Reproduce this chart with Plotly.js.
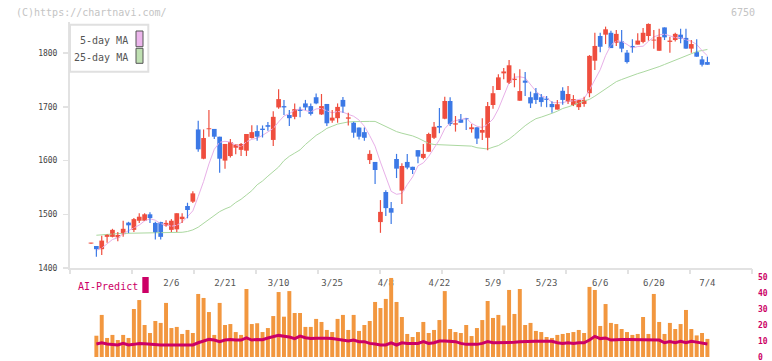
<!DOCTYPE html>
<html>
<head>
<meta charset="utf-8">
<script src="https://cdn.plot.ly/plotly-3.0.1.min.js"></script>
<style>html,body{margin:0;padding:0;background:#fff;}#chart{width:772px;height:361px;}</style>
</head>
<body>
<div id="chart"></div>
<script>
// ---- data ----
const openP = [1445.5,1441,1435,1458,1458,1457,1463,1484.5,1471,1488,1488,1500,1484,1485.5,1479,1471,1472,1491,1515.5,1523.5,
1658,1603.5,1658.4,1659,1644.5,1600,1608.5,1624,1620,1618.5,1642,1655,1659.5,1666,1638.5,1699,1701.5,1685,1681.5,1695.5,
1706.5,1701.5,1718,1686,1705.5,1674.5,1679,1713,1678,1670.5,1661.5,1653,1601,1597.5,1485.5,1541.5,1511.5,1603,1544,1597.5,
1588.5,1619.5,1605,1616.5,1642.5,1664.5,1678,1711,1667,1677.5,1679,1658.5,1662,1652,1642.5,1703.5,1731.5,1762.5,1745,1750,
1711.5,1749,1718,1725.5,1718,1715.5,1705.5,1695,1730,1709.5,1703.5,1699.5,1705.5,1725.5,1786,1832,1834.5,1838,1819.5,1822,
1801,1813.5,1816,1821,1832,1823.5,1804.5,1848,1821,1824.5,1834.5,1828.5,1808.5,1802,1788.5,1783.5];
const highP = [1447,1441,1460,1463,1473,1467,1488,1486,1493,1502,1502,1504,1486,1486,1489,1491,1502,1502,1521.5,1543,
1674,1658,1694,1659,1644.5,1631,1640,1630,1633,1649.5,1666,1666,1665.5,1672,1692,1733,1713,1694,1706.5,1700.5,
1713,1706.5,1725,1724,1705.5,1694,1706.5,1718.5,1689,1672.5,1661.5,1661.5,1619.5,1597.5,1526.5,1545,1523,1612.5,1595,1612.5,
1588.5,1619.5,1631,1652,1672,1698,1719,1718,1683,1687,1679,1668,1662,1679,1709,1739,1761,1772.5,1787.5,1762.5,
1770,1765,1728.5,1735,1724,1720.5,1710.5,1713,1736.5,1739,1722,1713,1719,1796.5,1838,1838,1849.5,1842,1843,1843,
1806,1826,1837,1847,1855.5,1843,1845.5,1848,1830.5,1838,1845.5,1845.5,1824.5,1826,1795,1793.5];
const lowP = [1445,1421,1424,1447,1457,1450,1458,1465,1467,1484,1488,1484,1453,1453,1477,1467,1467,1484,1492.5,1521,
1616.5,1602.5,1644.5,1640,1577.5,1585,1606,1612,1608.5,1608.5,1641,1637,1643,1655.5,1627,1696.5,1685,1664.5,1677,1680.5,
1694,1684,1705,1685,1664.5,1670.5,1670.5,1689,1665.5,1642.5,1639.5,1637,1593.5,1556.5,1465.5,1497,1482,1567.5,1519,1584,
1575,1595,1602.5,1616.5,1640,1651,1677,1664.5,1654,1670.5,1657,1652,1631,1638.5,1619.5,1696.5,1731.5,1751.5,1742.5,1736.5,
1711.5,1720.5,1698,1705.5,1700.5,1699.5,1689,1695,1704,1705.5,1701.5,1694,1700.5,1718,1768.5,1802,1817,1809.5,1813.5,1802,
1781,1801,1816,1818.5,1823.5,1808.5,1804.5,1824.5,1801,1822,1818.5,1808.5,1801,1793.5,1775,1778.5];
const closeP = [1446.5,1435,1451,1463,1471,1461.5,1473,1479.5,1491,1495.5,1500,1493,1466,1458,1484,1488,1502,1495.5,1508,1539,
1621,1642,1659.5,1644.5,1603.5,1631,1634.5,1630,1631,1649.5,1653,1644.5,1657,1663,1681.5,1714.5,1699,1679,1696,1692.5,
1699,1687,1706.5,1701.5,1669.5,1680,1700,1700.5,1680.5,1652,1644.5,1642.5,1612.5,1582.5,1504.5,1511.5,1503,1585,1590,1587,
1582.5,1607.5,1612.5,1649.5,1663,1661.5,1711,1668,1669.5,1670.5,1677,1662,1641,1657,1701.5,1725.5,1755,1766,1777.5,1752.5,
1729.5,1745,1706.5,1713,1709,1713,1699.5,1705,1713,1724,1714.5,1713,1713,1795,1813.5,1812,1844.5,1809.5,1836,1808.5,
1783.5,1811,1823.5,1838,1854.5,1824.5,1830.5,1829.5,1823.5,1836,1827,1808.5,1817,1793.5,1778.5,1778.5];
const ma5 = [null,1433,1437,1445,1453.1,1456.2,1463.8,1469.6,1475.1,1480,1487.7,1491.7,1489,1482.5,1480.2,1477.8,1479.6,1485.5,1495.5,1506.5,
1533.1,1561.1,1593.8,1621.1,1634,1636,1634.5,1628.7,1626,1635.2,1639.6,1641.6,1647,1653.4,1659.8,1672.2,1683.1,1687.4,1694,1696.2,
1693,1690.6,1696.2,1697.3,1692.7,1688.9,1691.6,1690.3,1686.1,1682.6,1675.5,1664,1646.4,1626.8,1597.2,1570.7,1542.8,1537.3,1538.8,1555.3,
1569.5,1590.3,1595.8,1607.7,1622.9,1638.7,1659.4,1670.6,1674.5,1676.1,1679.2,1669.4,1664,1661.5,1667.7,1677.4,1696,1721,1745.1,1755.3,
1756.1,1754.1,1742.3,1729.3,1720.6,1717.3,1708.1,1707.7,1707.7,1710.7,1711.1,1713.8,1715.4,1731.8,1749.7,1769.2,1795.5,1814.9,1823.1,1822.1,
1816.4,1809.7,1812.4,1812.9,1822.1,1830.3,1834.2,1835.5,1832.5,1828.8,1829.3,1824.8,1822.3,1816.3,1804.9,1795.2];
const ma25 = [null,1461,1462,1463,1463.5,1464,1464.5,1464.6,1465,1465,1465,1465.5,1465.5,1466,1466,1466,1466.5,1466.5,1468,1471,
1476,1483,1490,1497,1505,1510,1514,1522,1528,1536,1544,1555,1562,1571,1580,1588,1600,1608,1614,1620,
1630,1638,1647,1653,1660,1664,1668,1670,1672,1672.5,1673,1673,1673,1673,1668,1664,1658,1654,1651,1649,
1646,1642,1637,1632,1630,1629.5,1629,1628.5,1628,1628,1627.5,1627,1624,1622.5,1621.6,1625,1628,1634,1640,1648,
1657,1665,1672,1678,1681,1684,1688,1692,1697,1700,1703,1707,1711,1714,1720,1727,1734,1741,1747,1751,
1755,1759,1762,1765,1768,1771,1775,1779,1783,1788,1792,1796,1800,1803,1805,1807];
const aiBars = [null,13.3,26.3,11.9,13.8,10.6,13.8,11.9,30,35.6,20,15,22.5,21.3,33.8,18.1,18.8,14.4,16.9,15,
39.4,36.9,28.1,13.8,33.8,20,20.6,15.6,13.8,42.5,20.6,21.1,15.6,18.1,25.6,40.6,25.2,41.2,27.5,27.5,
18.8,18.8,23.8,21.9,16.9,15.6,23.8,26.3,16.9,26.3,16.3,20,22.5,34.4,30.6,36.3,49.4,34.4,25,14.4,
12.5,15.6,21.9,15,16.9,23.1,41.2,17.5,15.6,15,20,13.1,18.1,23.1,35,24.4,26.3,19.7,41.9,26.9,
42.5,20,21.3,16.3,15.6,12.5,11.9,13.8,14.4,15,15.6,16.9,15,43.8,41.9,19.4,33.1,21.3,20.6,17.5,
15.6,13.8,14.4,25,14.4,39.4,21.9,14.4,21.3,17.5,20.6,29.4,17.5,13.5,15,11.3];
const aiLine = [null,8.1,8.9,8.1,7.9,7.5,8.5,7.5,7.9,8.5,8.3,7.9,7.5,7.5,7.5,7.5,7.5,7.5,7.5,7.5,
8.9,10,11,10.6,9.6,10.6,11,10.6,10.6,11.9,10.6,11,10.8,11.9,12.8,13.5,13,12.5,11.5,13.1,
12,11.5,11.7,11.9,11.7,11.5,11,10.8,10,10.6,9.6,9.6,8.5,8.1,7.5,7.5,8.9,7.5,8.9,8.5,
8.5,8.5,9.6,8.5,8.9,10,10,10,9.6,8.5,7.9,7.9,7.9,8.5,9.6,8.9,8.9,8.9,8.9,9.2,
9.6,9.8,9.8,9.8,9.8,9.8,9.8,8.9,8.5,8.9,8.5,8.9,8.9,10.6,12.9,11.5,11.9,10.6,11,11,
11,11,11,11,11,11,10.6,8.9,9.6,8.9,9.8,8.9,9.8,9.3,8.75,8.1];
const tickIdx = [16,26,36,46,56,66,76,86,96,106,116];
const tickText = ['2/6','2/21','3/10','3/25','4/8','4/22','5/9','5/23','6/6','6/20','7/4'];

// ---- styling ----
const RED = '#ef4e3e', BLUE = '#3c79e6', MONO = 'DejaVu Sans Mono';
const xs = closeP.map((_, i) => i + 1);
const XR = [-2.92, 124.32];
const up = closeP.map((c, i) => c >= openP[i]);
const candleColor = up.map(u => u ? RED : BLUE);
// candle bodies: bar from open to close (doji bodies get a minimal visible thickness)
const bodyH = closeP.map((c, i) => { const d = c - openP[i]; return Math.abs(d) < 1.8 ? (d >= 0 ? 1.8 : -1.8) : d; });
function wicks(flag) {
  const wx = [], wy = [];
  xs.forEach((x, i) => { if (up[i] === flag) { wx.push(x, x, null); wy.push(lowP[i], highP[i], null); } });
  return {wx, wy};
}
const wUp = wicks(true), wDn = wicks(false);

const traces = [
  {type:'scatter', mode:'lines', x:xs, y:ma25, xaxis:'x', yaxis:'y', line:{color:'#abd8a0', width:1}, hoverinfo:'skip', showlegend:false},
  {type:'scatter', mode:'lines', x:xs, y:ma5, xaxis:'x', yaxis:'y', line:{color:'#e8b0e8', width:1}, hoverinfo:'skip', showlegend:false},
  {type:'scatter', mode:'lines', x:wUp.wx, y:wUp.wy, xaxis:'x', yaxis:'y', line:{color:RED, width:1.2}, connectgaps:false, hoverinfo:'skip', showlegend:false},
  {type:'scatter', mode:'lines', x:wDn.wx, y:wDn.wy, xaxis:'x', yaxis:'y', line:{color:BLUE, width:1.2}, connectgaps:false, hoverinfo:'skip', showlegend:false},
  {type:'bar', x:xs, y:bodyH, base:openP, width:0.88, xaxis:'x', yaxis:'y', marker:{color:candleColor, line:{width:0}}, hoverinfo:'skip', showlegend:false},
  {type:'bar', x:xs, y:aiBars, width:0.74, xaxis:'x2', yaxis:'y2', marker:{color:'#f2973f', line:{width:0}}, showlegend:false, hoverinfo:'skip'},
  {type:'scatter', mode:'lines', x:xs, y:aiLine, xaxis:'x2', yaxis:'y2', line:{color:'#cc0066', width:3}, showlegend:false, hoverinfo:'skip'},
  {type:'scatter', mode:'lines', x:[], y:[], xaxis:'x3', yaxis:'y', showlegend:false, hoverinfo:'skip'}
];

const BOT = 357, TOP = 22, H = BOT - TOP;
const P = (px) => (px - 70) / 682;       // paper x from pixel
const Q = (py) => (BOT - py) / H;        // paper y from pixel

const layout = {
  width:772, height:361,
  margin:{l:70, r:20, t:TOP, b:361 - BOT, pad:0},
  paper_bgcolor:'#fff', plot_bgcolor:'rgba(0,0,0,0)',
  hovermode:false, showlegend:false, barmode:'overlay',
  xaxis:{domain:[0,1], range:XR, anchor:'y',
    tickmode:'array', tickvals:tickIdx, ticktext:tickText, ticks:'', ticklabelstandoff:5,
    tickfont:{family:MONO, size:9, color:'#555'},
    showline:true, linecolor:'#e2e2e2', linewidth:2, showgrid:false, zeroline:false},
  xaxis3:{overlaying:'x', anchor:'y', range:[0,11], dtick:1, tick0:0, ticks:'outside', ticklen:5,
    tickcolor:'#e2e2e2', tickwidth:2, showticklabels:false, showline:false, showgrid:false, zeroline:false},
  yaxis:{domain:[Q(268),1], range:[1400,1858.1], anchor:'x', dtick:100, tick0:1400,
    ticks:'outside', ticklen:5, tickcolor:'#e2e2e2', tickwidth:1.5, ticklabelstandoff:4,
    tickfont:{family:MONO, size:8, color:'#444'},
    showline:true, linecolor:'#e2e2e2', linewidth:2, showgrid:false, zeroline:false},
  xaxis2:{domain:[0,1], range:XR, anchor:'y2', showticklabels:false, ticks:'', showline:false, showgrid:false, zeroline:false},
  yaxis2:{domain:[0,Q(277)], range:[0,50], anchor:'x2', side:'right', dtick:10, tick0:0, ticks:'',
    ticklabelstandoff:5, ticklabeloverflow:'allow', tickfont:{family:MONO, size:8, color:'#cc0066', weight:'bold'},
    showline:false, showgrid:false, zeroline:false},
  shapes:[
    {type:'rect', xref:'paper', yref:'paper', x0:0, x1:P(148.3), y0:Q(71.7), y1:Q(24.7), line:{color:'#e0e0e0', width:2}, fillcolor:'#fff'},
    {type:'rect', xref:'paper', yref:'paper', x0:P(136), x1:P(143), y0:Q(46.7), y1:Q(31), line:{color:'#555', width:1}, fillcolor:'#ecb6ec'},
    {type:'rect', xref:'paper', yref:'paper', x0:P(136), x1:P(143), y0:Q(63.3), y1:Q(48.3), line:{color:'#555', width:1}, fillcolor:'#bfe0b2'},
    {type:'rect', xref:'paper', yref:'paper', x0:P(142.3), x1:P(148.7), y0:Q(293), y1:Q(277), line:{width:0}, fillcolor:'#cc0066'}
  ],
  annotations:[
    {xref:'paper', yref:'paper', x:P(14), y:Q(12.7), xanchor:'left', yanchor:'middle', showarrow:false,
     text:'(C)https://chartnavi.com/', font:{family:MONO, size:10, color:'#c4c4c4'}},
    {xref:'paper', yref:'paper', x:P(757), y:Q(12.7), xanchor:'right', yanchor:'middle', showarrow:false,
     text:'6750', font:{family:MONO, size:10, color:'#c4c4c4'}},
    {xref:'paper', yref:'paper', x:P(130), y:Q(40), xanchor:'right', yanchor:'middle', showarrow:false,
     text:'5-day MA', font:{family:MONO, size:10, color:'#555'}},
    {xref:'paper', yref:'paper', x:P(130), y:Q(57.3), xanchor:'right', yanchor:'middle', showarrow:false,
     text:'25-day MA', font:{family:MONO, size:10, color:'#555'}},
    {xref:'paper', yref:'paper', x:P(76), y:Q(286), xanchor:'left', yanchor:'middle', showarrow:false,
     text:'AI-Predict', font:{family:MONO, size:10, color:'#cc0066'}}
  ]
};

Plotly.newPlot('chart', traces, layout, {staticPlot:true, displayModeBar:false});
</script>
</body>
</html>
